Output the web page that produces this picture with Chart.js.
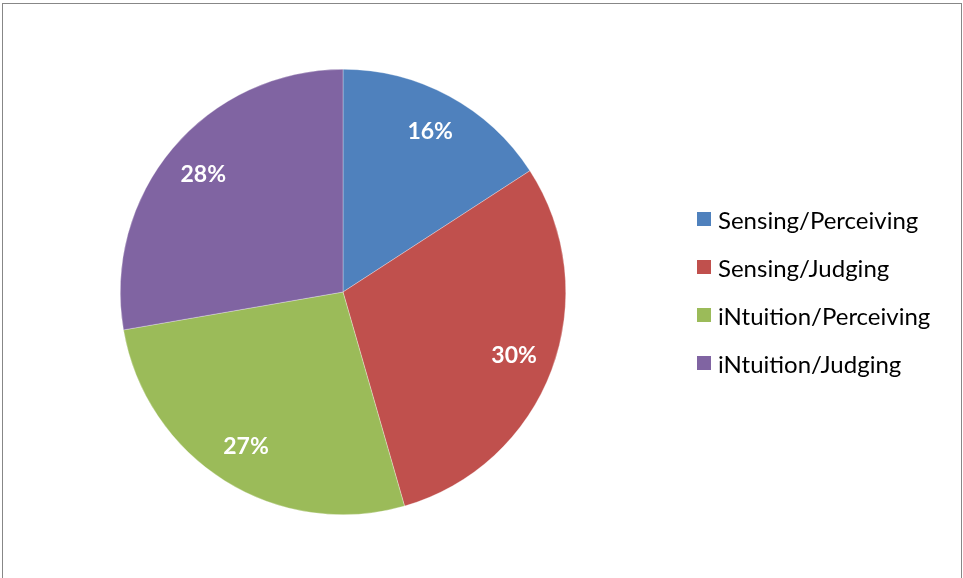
<!DOCTYPE html>
<html>
<head>
<meta charset="utf-8">
<script src="https://cdn.jsdelivr.net/npm/chart.js@4"></script>
<style>
  html, body { margin: 0; padding: 0; background: #fff; }
  #frame {
    position: absolute; left: 2px; top: 3px; width: 960px; height: 590px;
    border: 1.5px solid #878787; box-sizing: border-box;
  }
  #wrap { position: absolute; left: 0; top: 0; width: 963px; height: 578px; }
  #legend {
    position: absolute; left: 697px; top: 195px;
    font-family: Lato, "Open Sans", sans-serif; font-size: 24px; color: #000;
  }
  .item { display: flex; align-items: center; height: 48px; margin: 0; }
  .swatch { width: 14px; height: 14px; margin-right: 7px; }
</style>
</head>
<body>
<div id="frame"></div>
<div id="wrap"><canvas id="pie" width="963" height="578"></canvas></div>
<div id="legend"></div>
<script>
// MBTI temperament split
const types   = ['Sensing/Perceiving', 'Sensing/Judging', 'iNtuition/Perceiving', 'iNtuition/Judging'];
const shares  = [16, 30, 27, 28];
const colours = ['#4f81bd', '#c0504d', '#9bbb59', '#8064a2'];

// percentage labels inside each slice
const sliceLabels = {
  id: 'sliceLabels',
  afterDatasetsDraw(chart) {
    const ctx = chart.ctx;
    const meta = chart.getDatasetMeta(0);
    ctx.save();
    ctx.fillStyle = '#fff';
    ctx.font = 'bold 23px Lato, "Open Sans", sans-serif';
    ctx.textAlign = 'center';
    ctx.textBaseline = 'middle';
    meta.data.forEach((arc, i) => {
      const mid = (arc.startAngle + arc.endAngle) / 2;
      const r = arc.outerRadius * 0.82;
      ctx.fillText(shares[i] + '%', arc.x + Math.cos(mid) * r, arc.y + Math.sin(mid) * r);
    });
    ctx.restore();
  }
};

new Chart(document.getElementById('pie'), {
  type: 'pie',
  data: {
    labels: types,
    datasets: [{
      data: shares,
      backgroundColor: colours,
      borderColor: 'rgba(255,255,255,0.6)',
      borderWidth: 0.5,
    }]
  },
  options: {
    responsive: false,
    animation: false,
    layout: { padding: { left: 120, right: 397, top: 69, bottom: 63 } },
    plugins: { legend: { display: false }, tooltip: { enabled: false } },
  },
  plugins: [sliceLabels],
});

// legend built from the same arrays
document.getElementById('legend').innerHTML = types.map((t, i) =>
  `<div class="item"><span class="swatch" style="background:${colours[i]}"></span>${t}</div>`
).join('');
</script>
</body>
</html>
